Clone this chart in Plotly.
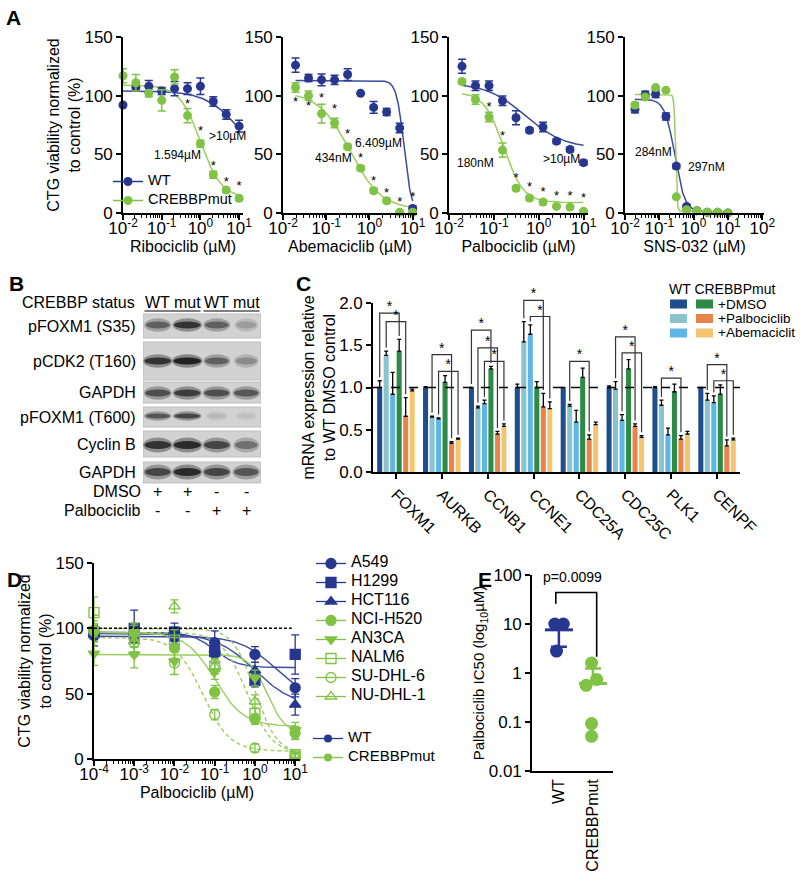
import numpy as np
import plotly.graph_objects as go

FONT = "Liberation Sans, Arial, Helvetica, sans-serif"
W, H = 800, 874

# ======================= DATA =======================
# ---- Panel A : dose response (dose in µM, viability %) ----
a_dose_ribo = [0.01, 0.0215, 0.0464, 0.1, 0.215, 0.464, 1.0, 2.15, 4.64, 10.0]
a_dose_2fold = [0.0195, 0.039, 0.078, 0.156, 0.3125, 0.625, 1.25, 2.5, 5.0, 10.0]

ribo_wt = [92, 107, 108, 104, 106, 106, 108, 95, 84, 74]
ribo_wt_err = [0, 3, 5, 3, 6, 5, 7, 4, 4, 5]
ribo_mut = [117, 111, 102, 96, 116, 83, 59, 32.6, 19.5, 12.5]
ribo_mut_err = [6, 7, 3, 9, 6, 6, 3, 3, 2, 2]
ribo_star = [None, None, None, None, None, 92, 69, 39, 26, 22]

abema_wt = [126, 115, 113.5, 113.5, 118, 102, 90, 86, 72.4, 3.8]
abema_wt_err = [6, 3, 5, 4, 5, 0, 5, 3, 4, 2]
abema_mut = [107, 100, 84.6, 76.7, 56.5, 38.2, 19, 10.4, 0.6, 0.6]
abema_mut_err = [4, 4, 8, 4, 2, 2, 2, 2, 1, 1]
abema_star = [94, 90.4, 97, 88, 67, 46.3, 26.6, 16.2, 9, 13]

palbo_wt = [125, 108.5, 108.5, 95.7, 81.2, 70.5, 73.3, 61.2, 54.1, 42.9]
palbo_wt_err = [6, 4, 4, 4, 6, 2, 4, 2, 2, 2]
palbo_mut = [112, 96.7, 81.8, 53.6, 21.1, 12.7, 9.3, 5.6, 5.1, 1.4]
palbo_mut_err = [2, 4, 4, 6, 2, 2, 2, 1, 1, 1]
palbo_star = [None, None, 89.7, 64.9, 28.8, 21.1, 16.9, 14.1, 14.1, 11.8]

sns_wt = [88.4, 100.8, 101.4, 82.3, 40, 5.5, 1.9, 0.6, 0.6, 0]
sns_wt_err = [3, 3, 3, 3, 2, 1, 1, 0, 0, 0]
sns_mut = [92, 98.9, 106.9, 104.7, 13.8, 2.8, 1.9, 0.6, 0.6, 0]
sns_mut_err = [2, 1, 1, 1, 1, 1, 0, 0, 0, 0]
sns_star = [None] * 10

# fitted 4PL parameters (top, bottom, logIC50, hill)
ribo_wt_fit = (104, 40, 1.0, 1.0)
ribo_mut_fit = (109, 13, 0.0, 1.6)
abema_wt_fit = (113, 0, 0.8, 5.0)
abema_mut_fit = (103, 3, -0.45, 1.2)
palbo_wt_fit = (111, 55, -0.3, 1.0)
palbo_mut_fit = (103, 9, -0.78, 2.0)
sns_wt_fit = (97, 1, -0.55, 3.0)
sns_mut_fit = (101, 1.5, -0.527, 20.0)

a_titles = ["Ribociclib (µM)", "Abemaciclib (µM)", "Palbociclib (µM)", "SNS-032 (µM)"]
# IC50 labels: (text, log10 dose, viability)
a_ic50_labels = [
    [(">10µM", 0.71, 65.5), ("1.594µM", -0.6, 49.4)],
    [("6.409µM", 0.2, 59.7), ("434nM", -0.84, 46.9)],
    [("180nM", -1.42, 42.6), (">10µM", 0.5, 46.0)],
    [("284nM", -1.17, 52.2), ("297nM", 0.385, 39.5)],
]

# ---- Panel B : western blot band intensities (0..1), lanes WT, mut, WT, mut ----
b_lanes = ["WT", "mut", "WT", "mut"]
b_rows = ["pFOXM1 (S35)", "pCDK2 (T160)", "GAPDH", "pFOXM1 (T600)", "Cyclin B", "GAPDH"]
b_pfoxm1_s35 = [0.6, 0.85, 0.6, 0.25]
b_pcdk2 = [0.85, 0.95, 0.6, 0.35]
b_gapdh1 = [0.7, 0.8, 0.7, 0.65]
b_pfoxm1_t600 = [0.65, 0.75, 0.1, 0.05]
b_cyclinb = [0.85, 0.9, 0.75, 0.5]
b_gapdh2 = [0.75, 0.9, 0.75, 0.65]
b_dmso = ["+", "+", "-", "-"]
b_palbo = ["-", "-", "+", "+"]

# ---- Panel C : mRNA expression ----
c_genes = ["FOXM1", "AURKB", "CCNB1", "CCNE1", "CDC25A", "CDC25C", "PLK1", "CENPF"]
c_wt_dmso = [1.0, 1.0, 1.0, 1.0, 1.0, 1.0, 1.0, 1.0]
c_wt_dmso_err = [0.08, 0.01, 0.0, 0.04, 0.0, 0.02, 0.01, 0.0]
c_wt_palbo = [1.38, 0.65, 0.76, 1.54, 0.78, 0.98, 0.79, 0.85]
c_wt_palbo_err = [0.05, 0.01, 0.02, 0.24, 0.02, 0.09, 0.06, 0.08]
c_wt_abema = [0.92, 0.63, 0.81, 1.63, 0.59, 0.61, 0.44, 0.82]
c_wt_abema_err = [0.26, 0.01, 0.04, 0.11, 0.14, 0.07, 0.08, 0.08]
c_mut_dmso = [1.43, 1.06, 1.22, 1.00, 1.12, 1.22, 0.95, 0.92]
c_mut_dmso_err = [0.14, 0.08, 0.03, 0.07, 0.11, 0.11, 0.09, 0.11]
c_mut_palbo = [0.66, 0.34, 0.45, 0.77, 0.39, 0.54, 0.39, 0.31]
c_mut_palbo_err = [0.22, 0.02, 0.03, 0.16, 0.05, 0.03, 0.04, 0.07]
c_mut_abema = [0.96, 0.39, 0.54, 0.75, 0.56, 0.41, 0.45, 0.38]
c_mut_abema_err = [0.02, 0.01, 0.03, 0.08, 0.03, 0.02, 0.03, 0.02]
c_treatments = ["+DMSO", "+Palbociclib", "+Abemaciclit"]
# significance brackets: (gene index, bar a, bar b, bracket height)
c_sig = [(0, 0, 3, 1.88), (0, 1, 4, 1.78),
         (1, 1, 4, 1.39), (1, 2, 5, 1.19),
         (2, 0, 3, 1.68), (2, 1, 4, 1.47), (2, 2, 5, 1.31),
         (3, 1, 4, 2.03), (3, 2, 5, 1.84),
         (4, 1, 4, 1.31),
         (5, 1, 4, 1.60), (5, 2, 5, 1.41),
         (6, 1, 4, 1.11),
         (7, 1, 4, 1.27), (7, 2, 5, 1.08)]

# ---- Panel D : cell line panel, palbociclib ----
d_dose = [1e-4, 1e-3, 1e-2, 1e-1, 1.0, 10.0]
d_lines = ["A549", "H1299", "HCT116", "NCI-H520", "AN3CA", "NALM6", "SU-DHL-6", "NU-DHL-1"]
d_status = ["WT", "WT", "WT", "mut", "mut", "mut", "mut", "mut"]
d_a549 = [94.5, 92, 93, 89, 80, 54.5]
d_h1299 = [97, 100, 97, 82.4, 60.2, 80]
d_hct116 = [96, 97, 96, 83.7, 67.9, 41.6]
d_h520 = [98.5, 96.4, 85, 51.3, 30.6, 19.9]
d_an3ca = [80.6, 79.8, 74.7, 67, 62, 22]
d_nalm6 = [112, 95, 91, 71, 34.7, 3.3]
d_sudhl6 = [97.7, 88.8, 73.5, 34, 8.4, 3.3]
d_nudhl1 = [100, 90, 116.8, 71, 44, 2]
d_a549_err = [8, 6, 5, 9, 6, 7]
d_h1299_err = [5, 14, 7, 8, 5, 15]
d_hct116_err = [6, 5, 5, 6, 6, 8]
d_h520_err = [5, 6, 8, 5, 4, 5]
d_an3ca_err = [9, 10, 10, 6, 6, 6]
d_nalm6_err = [12, 9, 8, 5, 4, 2]
d_sudhl6_err = [8, 10, 9, 4, 3, 2]
d_nudhl1_err = [10, 8, 5, 6, 5, 2]
d_fits = [(94, 45, 0.5, 1.0), (97, 70, -1.0, 1.5), (96, 40, 0.0, 0.9),
          (97, 25, -1.0, 1.2), (80, 20, 0.3, 2.0), (97, 4, -0.2, 1.4),
          (93, 6, -1.3, 1.3), (100, 4, 0.0, 1.6)]

# ---- Panel E : IC50 per group ----
e_groups = ["WT", "CREBBPmut"]
e_wt_ic50 = [10, 10, 2.8]
e_mut_ic50 = [1.6, 0.56, 0.74, 0.093, 0.051]
e_pvalue = "p=0.0099"

# ======================= STYLE =======================
NAVY = "#27378f"
NAVY_LINE = "#3b4b9d"
GREEN = "#7fc244"
GREEN_LINE = "#9ccd5f"
C_WT_COLORS = ["#1e4f8c", "#89c3cd", "#5fb6e4"]
C_MUT_COLORS = ["#2e8a47", "#e9834a", "#f4c571"]


def xdom(l, r):
    return [l / W, r / W]


def ydom(bottom, top):
    return [1 - bottom / H, 1 - top / H]


def fourpl(logx, p):
    top, bottom, logc, h = p
    return bottom + (top - bottom) / (1 + 10 ** ((logx - logc) * h))


def big(name, size):
    return f'<span style="font-size:{size}px">{name}</span>'


axis_base = dict(showline=True, linecolor="black", linewidth=1.6, ticks="outside",
                 ticklen=5, tickwidth=1.5, tickcolor="black", showgrid=False,
                 zeroline=False, tickfont=dict(family=FONT, size=17, color="black"),
                 title=dict(font=dict(family=FONT, size=16, color="black")))


def logminor(lo, hi):
    return [m * 10.0 ** e for e in range(lo, hi) for m in range(2, 10)]


fig = go.Figure()
layout = {}
annotations = []
shapes = []

# ======================= PANEL A =======================
a_sets = [
    (a_dose_ribo, ribo_wt, ribo_wt_err, ribo_mut, ribo_mut_err, ribo_star, ribo_wt_fit, ribo_mut_fit),
    (a_dose_2fold, abema_wt, abema_wt_err, abema_mut, abema_mut_err, abema_star, abema_wt_fit, abema_mut_fit),
    (a_dose_2fold, palbo_wt, palbo_wt_err, palbo_mut, palbo_mut_err, palbo_star, palbo_wt_fit, palbo_mut_fit),
    (a_dose_2fold, sns_wt, sns_wt_err, sns_mut, sns_mut_err, sns_star, sns_wt_fit, sns_mut_fit),
]
a_xdoms = [(123, 243), (283, 417), (449, 588), (625, 764)]
a_xranges = [[-2, 1.1], [-2, 1.1], [-2, 1.1], [-2, 2.05]]

for i, (dose, wt, wte, mut, mute, star, fwt, fmut) in enumerate(a_sets):
    n = i + 1
    xa = "x" if n == 1 else f"x{n}"
    ya = "y" if n == 1 else f"y{n}"
    lx = np.linspace(np.log10(dose[0]), np.log10(dose[-1]), 300)
    for fit, col in ((fwt, NAVY_LINE), (fmut, GREEN_LINE)):
        fig.add_trace(go.Scatter(x=10 ** lx, y=fourpl(lx, fit), mode="lines",
                                 line=dict(color=col, width=1.5), xaxis=xa, yaxis=ya,
                                 showlegend=False, hoverinfo="skip"))
    for vals, errs, col in ((wt, wte, NAVY), (mut, mute, GREEN)):
        fig.add_trace(go.Scatter(x=dose, y=vals, mode="markers",
                                 marker=dict(color=col, size=9),
                                 error_y=dict(type="data", array=errs, color=col,
                                              thickness=1.5, width=4),
                                 xaxis=xa, yaxis=ya, showlegend=False, cliponaxis=False))
    sx = [d for d, s in zip(dose, star) if s is not None]
    sy = [s for s in star if s is not None]
    if sx:
        fig.add_trace(go.Scatter(x=sx, y=sy, mode="text", text=["*"] * len(sx),
                                 textfont=dict(family=FONT, size=13, color="black"),
                                 xaxis=xa, yaxis=ya, showlegend=False, cliponaxis=False))
    lo, hi = a_xranges[i]
    hi_dec = int(np.floor(hi))
    tv = [10.0 ** e for e in range(-2, hi_dec + 1)]
    tt = [f"10<sup>{e}</sup>" for e in range(-2, hi_dec + 1)]
    xcfg = dict(axis_base)
    xcfg.update(type="log", range=[lo, hi], domain=xdom(*a_xdoms[i]), anchor=ya,
                tickvals=tv, ticktext=tt, tickangle=0, ticklabelstandoff=-6,
                minor=dict(ticks="outside", ticklen=3, tickwidth=1, tickcolor="black",
                           tickvals=logminor(-2, hi_dec)),
                title=dict(text=a_titles[i], standoff=2,
                           font=dict(family=FONT, size=16, color="black")))
    ycfg = dict(axis_base)
    ycfg.update(range=[0, 150], domain=ydom(213, 37), anchor=xa, tickvals=[0, 50, 100, 150])
    if n == 1:
        ycfg["title"] = dict(text="CTG viability normalized<br>to control (%)", standoff=0,
                             font=dict(family=FONT, size=16, color="black"))
    layout["xaxis" if n == 1 else f"xaxis{n}"] = xcfg
    layout["yaxis" if n == 1 else f"yaxis{n}"] = ycfg
    for txt, lxv, yv in a_ic50_labels[i]:
        annotations.append(dict(text=txt, x=lxv, y=yv, xref=xa, yref=ya, showarrow=False,
                                font=dict(family=FONT, size=12, color="black")))

# legend proxies for panel A
for name, col in (("WT", NAVY), ("CREBBPmut", GREEN)):
    fig.add_trace(go.Scatter(x=[None], y=[None], mode="lines+markers", name=big(name, 14.5),
                             line=dict(color=col, width=1.5), marker=dict(color=col, size=9),
                             xaxis="x", yaxis="y", legend="legend"))

# ======================= PANEL B =======================
b_bands = [b_pfoxm1_s35, b_pcdk2, b_gapdh1, b_pfoxm1_t600, b_cyclinb, b_gapdh2]
b_row_box = [(314, 338), (342, 380), (382, 403), (407, 427), (431, 457), (462, 483)]
b_band_geo = [(325, 7), (361, 7), (393, 7), (416, 5), (445, 8), (472, 8)]
fig.add_trace(go.Scatter(x=list(range(4)), y=[0.5] * 4, mode="markers",
                         marker=dict(opacity=0), xaxis="x5", yaxis="y5",
                         showlegend=False, hoverinfo="skip"))
layout["xaxis5"] = dict(domain=xdom(143, 261), range=[-0.5, 3.5], visible=False, anchor="y5")
layout["yaxis5"] = dict(domain=ydom(520, 290), range=[0, 1], visible=False, anchor="x5")


def gray(v):
    g = int(round(v))
    return f"rgb({g},{g},{g})"


for r, (top, bot) in enumerate(b_row_box):
    shapes.append(dict(type="rect", xref="x5", yref="paper", x0=-0.5, x1=3.5,
                       y0=1 - bot / H, y1=1 - top / H, fillcolor="#d2d2d2",
                       line=dict(color="#bdbdbd", width=1), layer="below"))
    cy, hh = b_band_geo[r]
    for k, inten in enumerate(b_bands[r]):
        wdt = 0.6 + 0.35 * inten
        halo = gray(205 - 75 * inten)
        core = gray(200 - 175 * inten)
        shapes.append(dict(type="circle", xref="x5", yref="paper",
                           x0=k - wdt / 2 - 0.05, x1=k + wdt / 2 + 0.05,
                           y0=1 - (cy + hh * 0.95) / H, y1=1 - (cy - hh * 0.95) / H,
                           fillcolor=halo, line=dict(width=0)))
        shapes.append(dict(type="circle", xref="x5", yref="paper",
                           x0=k - wdt / 2, x1=k + wdt / 2,
                           y0=1 - (cy + hh / 2) / H, y1=1 - (cy - hh / 2) / H,
                           fillcolor=core, line=dict(width=0)))
    annotations.append(dict(text=b_rows[r], x=138 / W, y=1 - ((top + bot) / 2) / H,
                            xref="paper", yref="paper", xanchor="right", yanchor="middle",
                            showarrow=False, font=dict(family=FONT, size=16, color="black")))

annotations.append(dict(text="CREBBP status", x=137 / W, y=1 - 302 / H, xref="paper",
                        yref="paper", xanchor="right", yanchor="middle", showarrow=False,
                        font=dict(family=FONT, size=16, color="black")))
for k, lane in enumerate(b_lanes):
    annotations.append(dict(text=lane, x=k, y=1 - 302 / H, xref="x5", yref="paper",
                            xanchor="center", showarrow=False, font=dict(family=FONT, size=16, color="black")))
    annotations.append(dict(text=b_dmso[k], x=k, y=1 - 492 / H, xref="x5", yref="paper",
                            xanchor="center", showarrow=False, font=dict(family=FONT, size=16, color="black")))
    annotations.append(dict(text=b_palbo[k], x=k, y=1 - 510 / H, xref="x5", yref="paper",
                            xanchor="center", showarrow=False, font=dict(family=FONT, size=16, color="black")))
for x0, x1 in ((-0.45, 1.45), (1.55, 3.45)):
    shapes.append(dict(type="line", xref="x5", yref="paper", x0=x0, x1=x1,
                       y0=1 - 311 / H, y1=1 - 311 / H, line=dict(color="#555", width=1.5)))
for txt, yy in (("DMSO", 492), ("Palbociclib", 510)):
    annotations.append(dict(text=txt, x=143 / W, y=1 - yy / H, xref="paper", yref="paper",
                            xanchor="right", yanchor="middle", showarrow=False,
                            font=dict(family=FONT, size=16, color="black")))

# ======================= PANEL C =======================
c_vals = [c_wt_dmso, c_wt_palbo, c_wt_abema, c_mut_dmso, c_mut_palbo, c_mut_abema]
c_errs = [c_wt_dmso_err, c_wt_palbo_err, c_wt_abema_err, c_mut_dmso_err, c_mut_palbo_err, c_mut_abema_err]
c_cols = C_WT_COLORS + C_MUT_COLORS
c_names = ["WT" + t for t in c_treatments] + ["CREBBPmut" + t for t in c_treatments]
gx = list(range(len(c_genes)))
for k in range(6):
    fig.add_trace(go.Bar(x=gx, y=c_vals[k], name=c_names[k], marker=dict(color=c_cols[k], line=dict(width=0)),
                         error_y=dict(type="data", symmetric=False, array=c_errs[k],
                                      arrayminus=[0] * len(gx), color="black", thickness=1.3, width=2),
                         xaxis="x6", yaxis="y6", showlegend=False, offsetgroup=str(k)))
BARGAP = 0.15
slot = (1 - BARGAP) / 6


def bar_x(g, k):
    return g - (1 - BARGAP) / 2 + slot * (k + 0.5)


bx, by, sx, sy = [], [], [], []
for g, a, b, h in c_sig:
    xa_, xb_ = bar_x(g, a), bar_x(g, b)
    ya_ = c_vals[a][g] + c_errs[a][g] + 0.04
    yb_ = c_vals[b][g] + c_errs[b][g] + 0.04
    bx += [xa_, xa_, xb_, xb_, None]
    by += [ya_, h, h, yb_, None]
    sx.append((xa_ + xb_) / 2)
    sy.append(h + 0.065)
fig.add_trace(go.Scatter(x=bx, y=by, mode="lines", line=dict(color="#333", width=1.2),
                         xaxis="x6", yaxis="y9", showlegend=False, hoverinfo="skip"))
fig.add_trace(go.Scatter(x=sx, y=sy, mode="text", text=["*"] * len(sx),
                         textfont=dict(family=FONT, size=14, color="black"),
                         xaxis="x6", yaxis="y9", showlegend=False, cliponaxis=False))
xc = dict(axis_base)
xc.update(domain=xdom(373, 740), range=[-0.5, 7.5], anchor="y6", tickvals=gx,
          ticktext=c_genes, tickangle=45, tickfont=dict(family=FONT, size=16, color="black"))
yc = dict(axis_base)
yc.update(domain=ydom(472, 303), range=[0, 2.0], anchor="x6", tickvals=[0, 0.5, 1.0, 1.5, 2.0],
          tickformat=".1f",
          title=dict(text="mRNA expression relative<br>to WT DMSO control", standoff=0,
                     font=dict(family=FONT, size=16, color="black")))
layout["xaxis6"] = xc
layout["yaxis6"] = yc
layout["yaxis9"] = dict(domain=ydom(472, 472 - 2.3 * 84.5), range=[0, 2.3], anchor="x6", visible=False)
shapes.append(dict(type="line", xref="x6 domain", yref="y6", x0=0, x1=1, y0=1, y1=1,
                   line=dict(color="black", width=1.5, dash="dash"), layer="above"))
# legend for C (two swatch columns)
annotations.append(dict(text="WT CREBBPmut", x=667 / W, y=1 - 289 / H, xref="paper", yref="paper",
                        xanchor="left", yanchor="middle", showarrow=False,
                        font=dict(family=FONT, size=14, color="black")))
for r, t in enumerate(c_treatments):
    yc_ = 304 + 14.5 * r
    for col, (x0, x1) in ((C_WT_COLORS[r], (670, 687)), (C_MUT_COLORS[r], (696, 713))):
        shapes.append(dict(type="rect", xref="paper", yref="paper", x0=x0 / W, x1=x1 / W,
                           y0=1 - (yc_ + 4.5) / H, y1=1 - (yc_ - 4.5) / H, fillcolor=col,
                           line=dict(width=0)))
    annotations.append(dict(text=t, x=716 / W, y=1 - yc_ / H, xref="paper", yref="paper",
                            xanchor="left", yanchor="middle", showarrow=False,
                            font=dict(family=FONT, size=13.5, color="black")))

# ======================= PANEL D =======================
d_vals = [d_a549, d_h1299, d_hct116, d_h520, d_an3ca, d_nalm6, d_sudhl6, d_nudhl1]
d_errs = [d_a549_err, d_h1299_err, d_hct116_err, d_h520_err, d_an3ca_err, d_nalm6_err, d_sudhl6_err, d_nudhl1_err]
d_symbols = ["circle", "square", "triangle-up", "circle", "triangle-down",
             "square-open", "circle-open", "triangle-up-open"]
d_dash = ["solid", "solid", "solid", "solid", "solid", "4px,3px", "4px,3px", "4px,3px"]
lxd = np.linspace(-4, 1, 300)
for j, name in enumerate(d_lines):
    lcol = NAVY_LINE if d_status[j] == "WT" else GREEN_LINE
    fig.add_trace(go.Scatter(x=10 ** lxd, y=fourpl(lxd, d_fits[j]), mode="lines",
                             line=dict(color=lcol, width=1.4, dash=d_dash[j]),
                             xaxis="x7", yaxis="y7", showlegend=False, hoverinfo="skip"))
for j, name in enumerate(d_lines):
    col = NAVY if d_status[j] == "WT" else GREEN
    fig.add_trace(go.Scatter(x=d_dose, y=d_vals[j], mode="markers",
                             marker=dict(color=col, size=10, symbol=d_symbols[j],
                                         line=dict(color=col, width=1.3)),
                             error_y=dict(type="data", array=d_errs[j], color=col, thickness=1.3, width=4),
                             xaxis="x7", yaxis="y7", showlegend=False, cliponaxis=False))
for j, name in enumerate(d_lines):
    col = NAVY if d_status[j] == "WT" else GREEN
    fig.add_trace(go.Scatter(x=[None], y=[None], mode="lines+markers", name=big(name, 16),
                             line=dict(color=col, width=1.3),
                             marker=dict(color=col, size=10, symbol=d_symbols[j], line=dict(color=col, width=1.3)),
                             xaxis="x7", yaxis="y7", legend="legend2"))
for name, col in (("WT", NAVY), ("CREBBPmut", GREEN)):
    fig.add_trace(go.Scatter(x=[None], y=[None], mode="lines+markers", name=big(name, 15),
                             line=dict(color=col, width=1.3), marker=dict(color=col, size=8),
                             xaxis="x7", yaxis="y7", legend="legend3"))
xd = dict(axis_base)
xd.update(type="log", range=[-4, 1.12], domain=xdom(94, 300), anchor="y7",
          tickvals=[10.0 ** e for e in range(-4, 2)],
          ticktext=[f"10<sup>{e}</sup>" for e in range(-4, 2)], tickangle=0, ticklabelstandoff=-6,
          minor=dict(ticks="outside", ticklen=3, tickwidth=1, tickcolor="black", tickvals=logminor(-4, 1)),
          title=dict(text="Palbociclib (µM)", standoff=2, font=dict(family=FONT, size=16, color="black")))
yd = dict(axis_base)
yd.update(range=[0, 150], domain=ydom(759, 563), anchor="x7", tickvals=[0, 50, 100, 150],
          title=dict(text="CTG viability normalized<br>to control (%)", standoff=0,
                     font=dict(family=FONT, size=16, color="black")))
layout["xaxis7"] = xd
layout["yaxis7"] = yd
shapes.append(dict(type="line", xref="x7 domain", yref="y7", x0=0, x1=0.96, y0=100, y1=100,
                   line=dict(color="black", width=1.5, dash="3px,2px")))

# ======================= PANEL E =======================
e_wt_jit = [-0.12, 0.13, -0.07]
e_mut_jit = [-0.04, -0.2, 0.11, -0.04, -0.04]
for gi, (vals, jit, col) in enumerate(((e_wt_ic50, e_wt_jit, NAVY), (e_mut_ic50, e_mut_jit, GREEN))):
    fig.add_trace(go.Scatter(x=[gi + j for j in jit], y=vals, mode="markers",
                             marker=dict(color=col, size=13), xaxis="x8", yaxis="y8",
                             showlegend=False, cliponaxis=False))
    m = float(np.mean(vals))
    s = float(np.std(vals, ddof=1))
    fig.add_trace(go.Scatter(x=[gi], y=[m], mode="markers",
                             marker=dict(symbol="line-ew", size=20, line=dict(color=col, width=3)),
                             error_y=dict(type="data", symmetric=False, array=[s],
                                          arrayminus=[s if m - s > 0 else 0], color=col,
                                          thickness=2.5, width=8),
                             xaxis="x8", yaxis="y8", showlegend=False, cliponaxis=False))
fig.add_trace(go.Scatter(x=[-0.09, -0.09, 1.11, 1.11], y=[26, 44, 44, 2.14], mode="lines",
                         line=dict(color="black", width=1.6), xaxis="x8", yaxis="y8",
                         showlegend=False, hoverinfo="skip"))
xe = dict(axis_base)
xe.update(domain=xdom(532, 613), range=[-0.79, 1.59], anchor="y8", tickvals=[0, 1],
          ticktext=e_groups, tickangle=-90, ticks="", tickfont=dict(family=FONT, size=16, color="black"))
ye = dict(axis_base)
ye.update(type="log", range=[-2, 2], domain=ydom(771, 575), anchor="x8",
          tickvals=[0.01, 0.1, 1, 10, 100], ticktext=["0.01", "0.1", "1", "10", "100"],
          title=dict(text="Palbociclib IC50 (log<sub>10</sub>µM)", standoff=0,
                     font=dict(family=FONT, size=15, color="black")))
layout["xaxis8"] = xe
layout["yaxis8"] = ye
annotations.append(dict(text=e_pvalue, x=572 / W, y=1 - 577 / H, xref="paper", yref="paper",
                        xanchor="center", yanchor="middle", showarrow=False,
                        font=dict(family=FONT, size=14, color="black")))

# ======================= PANEL LETTERS =======================
for letter, lx_, ly_ in (("A", 4, 4), ("B", 7, 270), ("C", 294, 270), ("D", 5, 566), ("E", 476, 566)):
    annotations.append(dict(text=f"<b>{letter}</b>", x=lx_ / W, y=1 - ly_ / H, xref="paper", yref="paper",
                            xanchor="left", yanchor="top", showarrow=False,
                            font=dict(family=FONT, size=21, color="black")))

leg_common = dict(bgcolor="rgba(0,0,0,0)", borderwidth=0, tracegroupgap=0, itemwidth=30,
                  xanchor="left", yanchor="top", itemclick=False, itemdoubleclick=False,
                  font=dict(family=FONT, size=10, color="black"))
layout["legend"] = dict(leg_common, x=108 / W, y=1 - 167 / H)
layout["legend2"] = dict(leg_common, x=311 / W, y=1 - 549 / H)
layout["legend3"] = dict(leg_common, x=308 / W, y=1 - 724 / H)

fig.update_layout(**layout)
fig.update_layout(width=W, height=H, autosize=False, margin=dict(l=0, r=0, t=0, b=0),
                  paper_bgcolor="white", plot_bgcolor="rgba(0,0,0,0)", template="none",
                  barmode="group", bargap=BARGAP, bargroupgap=0.22,
                  annotations=annotations, shapes=shapes, showlegend=True,
                  font=dict(family=FONT, color="black"))
fig.write_html("out.html", config={"displayModeBar": False},
               post_script="document.body.style.margin='0';")
